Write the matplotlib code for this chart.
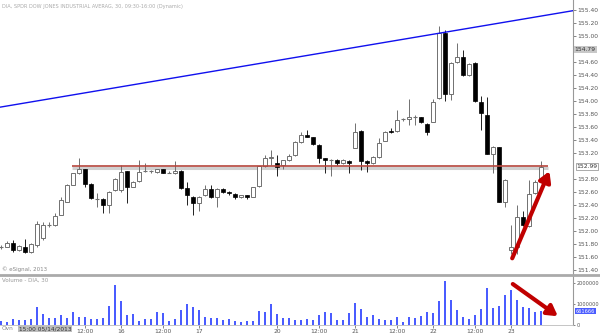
import matplotlib
matplotlib.use("Agg")
import matplotlib.pyplot as plt
import matplotlib.patheffects as pe
from matplotlib.lines import Line2D

# 30 minute bars, DIA
opens = [151.76, 151.76, 151.82, 151.70, 151.76, 151.67, 151.78, 151.89, 152.09, 152.09,
         152.25, 152.45, 152.71, 152.89, 152.95, 152.73, 152.49, 152.49, 152.40, 152.63,
         152.63, 152.92, 152.68, 152.77, 152.92, 152.92, 152.91, 152.95, 152.90, 152.89,
         152.93, 152.66, 152.53, 152.43, 152.55, 152.65, 152.52, 152.64, 152.60, 152.57,
         152.52, 152.55, 152.53, 152.69, 153.00, 153.13, 153.05, 153.01, 153.09, 153.17,
         153.37, 153.48, 153.44, 153.33, 153.12, 153.09, 153.10, 153.05, 153.08, 153.28,
         153.54, 153.08, 153.04, 153.14, 153.39, 153.54, 153.54, 153.72, 153.72, 153.76,
         153.75, 153.65, 153.68, 154.04, 155.05, 154.11, 154.60, 154.67, 154.40, 154.59,
         153.99, 153.79, 153.19, 153.29, 152.44, 151.70, 151.76, 152.21, 152.07, 152.58,
         152.79]
highs = [151.79, 151.84, 151.86, 151.78, 151.87, 151.81, 152.16, 152.14, 152.14, 152.27,
         152.53, 152.72, 152.90, 153.12, 152.96, 152.74, 152.58, 152.50, 152.61, 152.82,
         153.01, 152.93, 152.77, 153.10, 153.04, 152.94, 152.96, 152.96, 152.92, 153.07,
         152.94, 152.76, 152.54, 152.54, 152.71, 152.71, 152.66, 152.66, 152.62, 152.58,
         152.56, 152.56, 152.68, 153.00, 153.17, 153.25, 153.17, 153.10, 153.19, 153.38,
         153.53, 153.56, 153.45, 153.34, 153.13, 153.11, 153.11, 153.11, 153.09, 153.66,
         153.55, 153.09, 153.15, 153.43, 153.54, 153.58, 153.86, 153.74, 154.03, 153.78,
         153.76, 153.66, 154.03, 155.15, 155.09, 154.60, 154.89, 154.78, 154.58, 154.60,
         154.07, 154.06, 153.31, 153.30, 152.80, 152.09, 152.40, 152.30, 152.78, 152.79,
         153.08]
lows = [151.73, 151.75, 151.68, 151.69, 151.66, 151.66, 151.76, 151.86, 152.06, 152.08,
        152.24, 152.44, 152.70, 152.88, 152.68, 152.49, 152.37, 152.27, 152.27, 152.62,
        152.60, 152.43, 152.67, 152.76, 152.91, 152.90, 152.90, 152.89, 152.89, 152.88,
        152.65, 152.40, 152.25, 152.30, 152.54, 152.51, 152.37, 152.59, 152.55, 152.49,
        152.50, 152.49, 152.52, 152.67, 152.99, 153.01, 152.84, 152.96, 153.08, 153.16,
        153.36, 153.44, 153.33, 153.04, 152.90, 152.85, 153.02, 153.03, 152.89, 153.27,
        152.94, 152.91, 153.03, 153.13, 153.38, 153.51, 153.53, 153.70, 153.63, 153.63,
        153.66, 153.48, 153.67, 154.03, 154.00, 154.02, 154.59, 154.39, 154.39, 153.99,
        153.55, 153.18, 152.89, 152.44, 152.37, 151.65, 151.65, 152.08, 152.06, 152.57,
        152.78]
closes = [151.76, 151.82, 151.70, 151.77, 151.67, 151.80, 152.11, 152.09, 152.09, 152.23,
          152.47, 152.71, 152.89, 152.96, 152.73, 152.50, 152.49, 152.40, 152.60, 152.80,
          152.91, 152.68, 152.76, 152.91, 152.92, 152.92, 152.95, 152.90, 152.90, 152.93,
          152.66, 152.55, 152.43, 152.53, 152.64, 152.52, 152.64, 152.60, 152.58, 152.53,
          152.55, 152.53, 152.67, 153.00, 153.13, 153.14, 152.99, 153.09, 153.15, 153.37,
          153.47, 153.45, 153.34, 153.13, 153.09, 153.09, 153.05, 153.10, 153.04, 153.52,
          153.08, 153.04, 153.14, 153.36, 153.53, 153.52, 153.71, 153.72, 153.76, 153.76,
          153.67, 153.53, 153.99, 155.05, 154.11, 154.59, 154.67, 154.40, 154.57, 154.00,
          153.82, 153.19, 153.30, 152.45, 152.79, 151.76, 152.21, 152.09, 152.57, 152.76,
          152.99]
volumes = [190000, 160000, 290000, 250000, 250000, 290000, 840000, 540000, 320000, 320000,
           490000, 330000, 600000, 400000, 370000, 300000, 300000, 330000, 900000, 1900000,
           1140000, 460000, 520000, 190000, 300000, 290000, 600000, 560000, 190000, 290000,
           730000, 1020000, 870000, 710000, 380000, 320000, 350000, 240000, 270000, 190000,
           160000, 170000, 210000, 670000, 600000, 1000000, 520000, 350000, 330000, 240000,
           240000, 290000, 220000, 480000, 630000, 560000, 220000, 220000, 570000, 1050000,
           750000, 400000, 460000, 270000, 220000, 220000, 380000, 160000, 370000, 330000,
           440000, 620000, 590000, 1160000, 2110000, 1190000, 730000, 370000, 300000, 480000,
           750000, 1760000, 790000, 890000, 1440000, 1670000, 1210000, 840000, 790000, 600000,
           661666]

time_ticks = [14, 20, 27, 33, 46, 53, 59, 66, 72, 79, 85]
time_labels = ["12:00", "16", "12:00", "17", "20", "12:00", "21", "12:00", "22", "12:00", "23"]

price_ticks = [151.4, 151.6, 151.8, 152.0, 152.2, 152.4, 152.6, 152.8, 153.2, 153.4,
               153.6, 153.8, 154.0, 154.2, 154.4, 154.6, 155.0, 155.2, 155.4]
vol_ticks = [0, 1000000, 2000000]

last_price = 152.99
cursor_price = 154.79

# drawn lines
resist_level = 153.00
resist_span = [11.8, 91.2]
trend_x = [-0.5, 96]
trend_y = [153.90, 155.40]

W, H = 600, 333
fig = plt.figure(figsize=(W / 100, H / 100), dpi=100)
ax = fig.add_axes([0, 1 - 275 / H, 573 / W, 275 / H])
axv = fig.add_axes([0, 8 / H, 573 / W, 50 / H], sharex=ax)

n = len(opens)
xs = list(range(n))
for i in xs:
    o, h, l, c = opens[i], highs[i], lows[i], closes[i]
    if c >= o:
        ax.vlines(i, l, h, color="#707070", lw=0.7, zorder=2)
        if abs(c - o) < 0.005:
            ax.hlines(c, i - 0.33, i + 0.33, color="#707070", lw=0.8, zorder=3)
        else:
            ax.bar(i, c - o, bottom=o, width=0.62, color="white", edgecolor="#707070",
                   linewidth=0.7, zorder=3)
    else:
        ax.vlines(i, l, h, color="#202020", lw=0.7, zorder=2)
        ax.bar(i, o - c, bottom=c, width=0.62, color="black", edgecolor="black",
               linewidth=0.5, zorder=3)

# horizontal resistance line with its grey shadow
ax.hlines(resist_level - 0.025, resist_span[0], resist_span[1], color="#d0d0d0", lw=2.2, zorder=1)
ax.hlines(resist_level, resist_span[0], resist_span[1], color="#b5453c", lw=1.2, zorder=4)

# trend line
ax.plot(trend_x, trend_y, color="#1010ee", lw=1.0, zorder=4)

ax.set_xlim(-0.17, 95.33)
ax.set_ylim(151.323, 155.554)
ax.yaxis.tick_right()
ax.set_yticks(price_ticks)
ax.set_yticklabels([f"{p:.2f}" for p in price_ticks])
ax.tick_params(axis="y", labelsize=4.3, colors="#555555", length=2, width=0.5, pad=1)
ax.tick_params(axis="x", bottom=False, labelbottom=False)
for s in ["top", "left", "bottom"]:
    ax.spines[s].set_visible(False)
ax.spines["right"].set_color("#999999")
ax.spines["right"].set_linewidth(0.8)

ax.text(1.003, cursor_price, f"{cursor_price:.2f}", transform=ax.get_yaxis_transform(),
        fontsize=4.3, color="#333333", va="center", ha="left",
        bbox=dict(boxstyle="square,pad=0.15", fc="#c8c8c8", ec="none"))
ax.text(1.006, last_price, f"{last_price:.2f}", transform=ax.get_yaxis_transform(),
        fontsize=4.3, color="#333333", va="center", ha="left",
        bbox=dict(boxstyle="square,pad=0.15", fc="white", ec="#888888", lw=0.5))

ax.text(0.004, 0.02, "© eSignal, 2013", transform=ax.transAxes, fontsize=4,
        color="#888888", va="center")

shadow = [pe.SimplePatchShadow(offset=(1.5, -1.5), shadow_rgbFace="#999999", alpha=0.6),
          pe.Normal()]
a1 = ax.annotate("", xy=(91.4, 152.92), xytext=(85.2, 151.58),
                 arrowprops=dict(arrowstyle="-|>,head_length=0.6,head_width=0.35",
                                 color="#c00000", lw=3, shrinkA=0, shrinkB=0))
a1.arrow_patch.set_path_effects(shadow)

# volume
axv.bar(xs, volumes, width=0.48, color="#4a5cff", zorder=2)
axv.set_ylim(0, 2380000)
axv.yaxis.tick_right()
axv.set_yticks(vol_ticks)
axv.set_yticklabels([str(v) for v in vol_ticks])
axv.tick_params(axis="y", labelsize=3.6, colors="#555555", length=1.5, width=0.5, pad=0.8)
axv.set_xticks(time_ticks)
axv.set_xticklabels(time_labels)
axv.tick_params(axis="x", labelsize=4.3, colors="#555555", length=2, width=0.5, pad=1)
for s in ["top", "left"]:
    axv.spines[s].set_visible(False)
axv.spines["right"].set_color("#999999")
axv.spines["right"].set_linewidth(0.8)
axv.spines["bottom"].set_color("#bbbbbb")
axv.spines["bottom"].set_linewidth(0.6)
axv.text(0.004, 0.9, "Volume - DIA, 30", transform=axv.transAxes, fontsize=4,
         color="#999999", va="center")
axv.text(1.005, volumes[-1], str(volumes[-1]), transform=axv.get_yaxis_transform(),
         fontsize=3.6, color="white", va="center", ha="left",
         bbox=dict(boxstyle="square,pad=0.15", fc="#4a5cff", ec="none"))

a2 = axv.annotate("", xy=(92.8, 420000), xytext=(85.3, 1950000),
                  arrowprops=dict(arrowstyle="-|>,head_length=0.6,head_width=0.35",
                                  color="#c00000", lw=3, shrinkA=0, shrinkB=0))
a2.arrow_patch.set_path_effects(shadow)

# separator between panels
fig.add_artist(Line2D([0, 1], [1 - 275 / H, 1 - 275 / H], color="#aaaaaa", lw=2))

fig.text(0.003, 0.988, "DIA, SPDR DOW JONES INDUSTRIAL AVERAG, 30, 09:30-16:00 (Dynamic)",
         fontsize=3.6, color="#aaaaaa", va="top")
fig.text(0.002, 0.005, "Ovn", fontsize=4.2, color="#888888", va="bottom")
fig.text(0.031, 0.005, "15:00 05/14/2013", fontsize=4.2, color="#333333", va="bottom",
         bbox=dict(boxstyle="square,pad=0.15", fc="#bdbdbd", ec="none"))

fig.savefig("out.png", dpi=100)
